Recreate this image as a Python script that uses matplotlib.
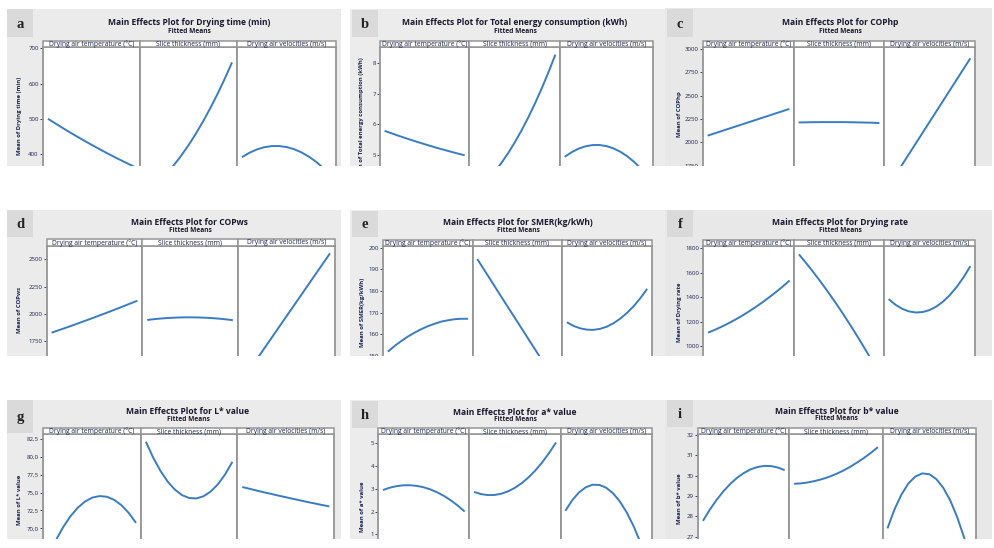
import matplotlib
matplotlib.use("Agg")
import matplotlib.pyplot as plt
from matplotlib.patches import Rectangle

W, H = 995, 548

# ---------------- data ----------------
factor_names = ["Drying air temperature (°C)", "Slice thickness (mm)", "Drying air velocities (m/s)"]
temperature = [45, 46.25, 47.5, 48.75, 50, 51.25, 52.5, 53.75, 55, 56.25, 57.5, 58.75, 60]
thickness = [3, 3.5, 4, 4.5, 5, 5.5, 6, 6.5, 7, 7.5, 8, 8.5, 9]
velocity = [1.0, 1.125, 1.25, 1.375, 1.5, 1.625, 1.75, 1.875, 2.0, 2.125, 2.25, 2.375, 2.5]

letters = ["a", "b", "c", "d", "e", "f", "g", "h", "i"]
titles = ["Main Effects Plot for Drying time (min)",
          "Main Effects Plot for Total energy consumption (kWh)",
          "Main Effects Plot for COPhp",
          "Main Effects Plot for COPws",
          "Main Effects Plot for SMER(kg/kWh)",
          "Main Effects Plot for Drying rate",
          "Main Effects Plot for L* value",
          "Main Effects Plot for a* value",
          "Main Effects Plot for b* value"]
subtitle = "Fitted Means"
ylabels = ["Mean of Drying time (min)",
           "Mean of Total energy consumption (kWh)",
           "Mean of COPhp",
           "Mean of COPws",
           "Mean of SMER(kg/kWh)",
           "Mean of Drying rate",
           "Mean of L* value",
           "Mean of a* value",
           "Mean of b* value"]

# fitted means: temperature, thickness, velocity curves
drying_time_temp = [500, 487.0, 474.3, 461.8, 449.7, 437.8, 426.3, 415.0, 404.0, 393.3, 382.9, 372.8, 363]
drying_time_thick = [290, 305.6, 323.9, 345.0, 368.9, 395.6, 425, 457.2, 492.2, 530, 570.6, 613.9, 660]
drying_time_vel = [391.2, 403.6, 413.0, 419.3, 422.5, 422.7, 419.8, 413.9, 404.9, 392.9, 377.8, 359.6, 338.4]

energy_temp = [5.78, 5.702, 5.626, 5.552, 5.480, 5.410, 5.343, 5.277, 5.213, 5.152, 5.093, 5.035, 4.98]
energy_thick = [3.77, 3.954, 4.173, 4.426, 4.714, 5.037, 5.395, 5.787, 6.214, 6.676, 7.173, 7.704, 8.27]
energy_vel = [4.930, 5.082, 5.197, 5.274, 5.314, 5.316, 5.281, 5.209, 5.098, 4.950, 4.765, 4.542, 4.282]

cophp_temp = [2072, 2095.8, 2119.7, 2143.5, 2167.3, 2191.2, 2215, 2238.8, 2262.7, 2286.5, 2310.3, 2334.2, 2358]
cophp_thick = [2213, 2214.5, 2216, 2216.5, 2217, 2217, 2217, 2216.5, 2215, 2213.5, 2212, 2210, 2207]
cophp_vel = [1536, 1649.7, 1763.3, 1877, 1990.7, 2104.3, 2218, 2331.7, 2445.3, 2559, 2672.7, 2786.3, 2900]

copws_temp = [1826, 1848.7, 1871.7, 1895, 1918.7, 1942.7, 1967, 1991.7, 2016.7, 2042, 2067.7, 2093.7, 2120]
copws_thick = [1943.0, 1950.5, 1956.5, 1961.2, 1964.5, 1966.5, 1967.0, 1966.1, 1963.9, 1960.2, 1955.2, 1948.8, 1941.0]
copws_vel = [1395, 1491.7, 1588.3, 1685, 1781.7, 1878.3, 1975, 2071.7, 2168.3, 2265, 2361.7, 2458.3, 2555]

smer_temp = [152.0, 154.6, 156.9, 159.0, 160.8, 162.4, 163.8, 164.9, 165.9, 166.5, 167.0, 167.2, 167.2]
smer_thick = [194.8, 190.0, 185.2, 180.3, 175.5, 170.7, 165.9, 161.1, 156.3, 151.5, 146.6, 141.8, 137.0]
smer_vel = [165.8, 164.1, 163.0, 162.4, 162.3, 162.8, 163.8, 165.4, 167.5, 170.1, 173.2, 176.9, 181.1]

rate_temp = [1109, 1132.2, 1157.7, 1185.4, 1215.3, 1247.5, 1282, 1318.7, 1357.7, 1398.9, 1442.3, 1488.0, 1536]
rate_thick = [1751, 1684.6, 1615.4, 1543.5, 1468.8, 1391.3, 1311, 1227.9, 1142.1, 1053.5, 962.1, 867.9, 771]
rate_vel = [1384.1, 1337.9, 1304.2, 1283.0, 1274.3, 1278.0, 1294.2, 1322.9, 1364.2, 1417.8, 1484.0, 1562.7, 1653.8]

L_temp = [66.06, 68.25, 70.11, 71.64, 72.85, 73.73, 74.29, 74.51, 74.42, 73.99, 73.24, 72.16, 70.76]
L_thick = [82.12, 79.91, 78.06, 76.56, 75.43, 74.65, 74.24, 74.18, 74.49, 75.15, 76.17, 77.56, 79.30]
L_vel = [75.78, 75.53, 75.28, 75.04, 74.81, 74.57, 74.35, 74.12, 73.90, 73.68, 73.47, 73.26, 73.06]

a_temp = [2.947, 3.049, 3.118, 3.154, 3.157, 3.128, 3.065, 2.970, 2.841, 2.680, 2.486, 2.259, 1.999]
a_thick = [2.865, 2.769, 2.724, 2.729, 2.784, 2.890, 3.046, 3.253, 3.509, 3.817, 4.174, 4.582, 5.04]
a_vel = [2.030, 2.494, 2.840, 3.068, 3.179, 3.172, 3.047, 2.805, 2.445, 1.967, 1.372, 0.658, -0.172]

b_temp = [27.78, 28.33, 28.81, 29.23, 29.59, 29.89, 30.13, 30.31, 30.42, 30.48, 30.47, 30.40, 30.27]
b_thick = [29.60, 29.62, 29.67, 29.74, 29.83, 29.94, 30.08, 30.24, 30.43, 30.64, 30.87, 31.12, 31.40]
b_vel = [27.41, 28.34, 29.07, 29.62, 29.96, 30.11, 30.07, 29.83, 29.40, 28.78, 27.95, 26.94, 25.73]

curves = [
    (drying_time_temp, drying_time_thick, drying_time_vel),
    (energy_temp, energy_thick, energy_vel),
    (cophp_temp, cophp_thick, cophp_vel),
    (copws_temp, copws_thick, copws_vel),
    (smer_temp, smer_thick, smer_vel),
    (rate_temp, rate_thick, rate_vel),
    (L_temp, L_thick, L_vel),
    (a_temp, a_thick, a_vel),
    (b_temp, b_thick, b_vel),
]

yticks = [[400, 500, 600, 700],
          [5, 6, 7, 8],
          [1750, 2000, 2250, 2500, 2750, 3000],
          [1750, 2000, 2250, 2500],
          [150, 160, 170, 180, 190, 200],
          [1000, 1200, 1400, 1600, 1800],
          [70, 72.5, 75, 77.5, 80, 82.5],
          [1, 2, 3, 4, 5],
          [27, 28, 29, 30, 31, 32]]
ytick_labels = [["400", "500", "600", "700"],
                ["5", "6", "7", "8"],
                ["1750", "2000", "2250", "2500", "2750", "3000"],
                ["1750", "2000", "2250", "2500"],
                ["150", "160", "170", "180", "190", "200"],
                ["1000", "1200", "1400", "1600", "1800"],
                ["70,0", "72,5", "75,0", "77,5", "80,0", "82,5"],
                ["1", "2", "3", "4", "5"],
                ["27", "28", "29", "30", "31", "32"]]
# visible value range (bottom of crop, top of plot area)
ylims = [(366, 703.7), (4.63, 8.53), (1747, 3021),
         (1612, 2622), (150.3, 200.8), (918, 1819),
         (68.5, 83.16), (0.79, 5.40), (26.89, 32.03)]

# ---------------- layout (pixels) ----------------
layout = [
    dict(bg=(7, 9, 341, 166), box=(7, 9, 33, 37), tx=189, ty=22.7, sy=31.5, st=(41, 47),
         axx=[43, 140, 237, 336], bot=166, yl=(20, 77), bgc="#ebebeb"),
    dict(bg=(350, 9, 665, 166), box=(352, 10, 378, 37), tx=515, ty=22.7, sy=31.2, st=(41, 46.7),
         axx=[380, 469.3, 560, 652.7], bot=166, yl=(362, 57), bgc="#ececec"),
    dict(bg=(665, 8, 992, 166), box=(667, 9, 693, 37), tx=840, ty=22.7, sy=31.5, st=(41, 47),
         axx=[703, 794, 884, 975], bot=166, yl=(680, 91.7), bgc="#e8e8e8"),
    dict(bg=(7, 210, 341, 356), box=(7, 210, 33, 237), tx=190, ty=222.3, sy=230.7, st=(239.3, 246),
         axx=[46.7, 142.3, 237.7, 335], bot=356, yl=(20, 286.7), bgc="#ebebeb"),
    dict(bg=(350, 210, 665, 356), box=(352, 211, 378, 237), tx=518, ty=222.3, sy=230.7, st=(240, 246),
         axx=[383.3, 472.7, 562.3, 651.7], bot=356, yl=(363, 278), bgc="#ececec"),
    dict(bg=(665, 210, 992, 356), box=(667, 210, 693, 237), tx=840, ty=222.3, sy=230.7, st=(240, 246),
         axx=[703.3, 794.3, 884, 975], bot=356, yl=(680, 283), bgc="#e8e8e8"),
    dict(bg=(7, 400, 341, 539), box=(7, 400, 33, 433), tx=188, ty=411.7, sy=419.3, st=(428.3, 434.3),
         axx=[43.3, 141, 237.3, 334.3], bot=539, yl=(20, 475), bgc="#ebebeb"),
    dict(bg=(350, 400, 665, 539), box=(352, 401, 378, 428), tx=515, ty=412.7, sy=419.3, st=(428.3, 434.3),
         axx=[378.3, 469.3, 560.7, 651.7], bot=539, yl=(363, 481.7), bgc="#ececec"),
    dict(bg=(665, 400, 992, 539), box=(667, 400, 693, 427), tx=836.7, ty=411, sy=418.3, st=(428.3, 434.3),
         axx=[698.3, 789.3, 882.7, 976], bot=539, yl=(680, 473), bgc="#e8e8e8"),
]

LINE = "#3a7cc3"
NAVY = "#1c2450"
SPINE = "#959595"
FONT = "Open Sans"

fig = plt.figure(figsize=(W / 100, H / 100), dpi=100)
fig.patch.set_facecolor("white")


def fx(x):
    return x / W


def fy(y):
    return 1 - y / H


def frect(x0, y0, x1, y1, **kw):
    r = Rectangle((fx(x0), fy(y1)), (x1 - x0) / W, (y1 - y0) / H,
                  transform=fig.transFigure, **kw)
    fig.add_artist(r)
    return r


xsets = [temperature, thickness, velocity]

for k in range(9):
    g = layout[k]
    frect(*g["bg"], facecolor=g["bgc"], edgecolor="none", zorder=-2)
    frect(*g["box"], facecolor="#dadada", edgecolor="none", zorder=-1)
    bx0, by0, bx1, by1 = g["box"]
    fig.text(fx((bx0 + bx1) / 2), fy((by0 + by1) / 2 + 1), letters[k], ha="center", va="center",
             fontsize=10.5, family="Liberation Serif", fontweight="bold", color="#222222", zorder=2)
    fig.text(fx(g["tx"]), fy(g["ty"]), titles[k], ha="center", va="center", fontsize=6.1,
             family=FONT, fontweight="bold", color="#1a1a2e", zorder=2)
    fig.text(fx(g["tx"]), fy(g["sy"]), subtitle, ha="center", va="center", fontsize=4.8,
             family=FONT, fontweight="bold", color="#1a1a2e", zorder=2)
    fig.text(fx(g["yl"][0]), fy(g["yl"][1]), ylabels[k], rotation=90, ha="center", va="top",
             fontsize=4.3, family=FONT, fontweight="bold", color=NAVY, zorder=2)

    axx = g["axx"]
    st0, st1 = g["st"]
    for j in range(3):
        x0, x1 = axx[j], axx[j + 1]
        ax = fig.add_axes([fx(x0), fy(g["bot"]), (x1 - x0) / W, (g["bot"] - st1) / H], zorder=1)
        ax.set_facecolor("white")
        xs = xsets[j]
        ax.plot(xs, curves[k][j], color=LINE, lw=1.4, solid_capstyle="butt")
        pad = 0.057 * (xs[-1] - xs[0])
        ax.set_xlim(xs[0] - pad, xs[-1] + pad)
        ax.set_ylim(*ylims[k])
        ax.set_xticks([])
        for s in ["left", "right", "top"]:
            ax.spines[s].set_color(SPINE)
            ax.spines[s].set_linewidth(1.3)
        ax.spines["bottom"].set_visible(False)
        if j == 0:
            ax.set_yticks(yticks[k])
            ax.set_yticklabels(ytick_labels[k], fontsize=4.4, family=FONT, color=NAVY)
            ax.tick_params(axis="y", length=2, width=0.6, color=NAVY, pad=1)
        else:
            ax.set_yticks([])
        # strip header
        frect(x0, st0, x1, st1, facecolor="white", edgecolor=SPINE, linewidth=1.1, zorder=3)
        fig.text(fx((x0 + x1) / 2), fy((st0 + st1) / 2 + 0.3), factor_names[j], ha="center",
                 va="center", fontsize=4.9, family=FONT, color=NAVY, zorder=4)

# white crops between rows
frect(0, 166, W, 208, facecolor="white", edgecolor="none", zorder=10)
frect(0, 356, W, 399, facecolor="white", edgecolor="none", zorder=10)
frect(0, 539, W, H, facecolor="white", edgecolor="none", zorder=10)

fig.savefig("out.png", dpi=100, facecolor="white")
